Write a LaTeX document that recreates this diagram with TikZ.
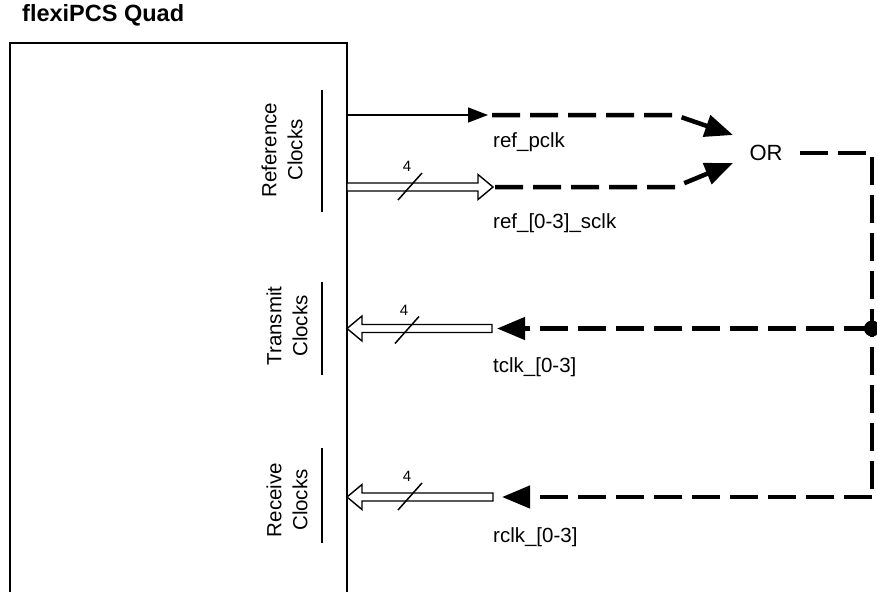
\documentclass[tikz,border=0pt]{standalone}
\usepackage{fontspec}
\setmainfont{Liberation Sans}
\usetikzlibrary{arrows.meta,calc}

\tikzset{
  cadre/.style={line width=2pt},
  signal/.style={line width=1.5pt},
  pointille/.style={line width=4.5pt, dash pattern=on 28pt off 10pt},
  grandefleche/.style={-{Triangle[length=28pt,width=22pt]}},
  bus/.style={line width=1.4pt, fill=white, line join=miter},
  etiq/.style={anchor=west, inner sep=0pt, font=\fontsize{20.5}{24}\selectfont},
  groupe/.style={rotate=90, align=center, inner sep=0pt, font=\fontsize{20.5}{26}\selectfont},
}

% fleche creuse (bus) de #1 vers #2
\newcommand{\flechebus}[2]{%
  \path ($(#2)!15pt!(#1)$) coordinate (basetete);
  \draw[bus] ($(#1)!4pt!90:(#2)$) -- ($(basetete)!4pt!90:(#2)$)
    -- ($(basetete)!12.5pt!90:(#2)$) -- (#2)
    -- ($(basetete)!12.5pt!-90:(#2)$) -- ($(basetete)!4pt!-90:(#2)$)
    -- ($(#1)!4pt!-90:(#2)$) -- cycle;}

% barre oblique du bus avec sa largeur
\newcommand{\barrebus}[1]{%
  \draw[signal] ($(#1)+(-12,13.5)$) -- ($(#1)+(12,-13.5)$);
  \node[font=\fontsize{15}{16}\selectfont] at ($(#1)+(-3,-20)$) {4};}

\begin{document}
\begin{tikzpicture}[x=1pt, y=-1pt]
    \useasboundingbox (0,0) rectangle (877,592);

    % Titre et cadre du bloc
    \node[anchor=west, inner sep=0pt, font=\bfseries\fontsize{23.5}{26}\selectfont] (titre) at (22,15) {flexiPCS Quad};
    \draw[cadre] (10,592) -- (10,43) -- (347,43) -- (347,592);

    % Groupes d'horloges
    \node[groupe] (grpref) at (282,150) {Reference\\Clocks};
    \draw[cadre] (322,90) -- (322,212);
    \node[groupe] (grptx) at (287,326) {Transmit\\Clocks};
    \draw[cadre] (322,282) -- (322,375);
    \node[groupe] (grprx) at (287,500) {Receive\\Clocks};
    \draw[cadre] (322,448) -- (322,543);

    % Points de connexion
    \coordinate (pclkdep) at (347,115);
    \coordinate (pclkfin) at (488,115);
    \coordinate (pclkcoude) at (675,115);
    \coordinate (sclkdep) at (347,187);
    \coordinate (sclkfin) at (493,187);
    \coordinate (sclkcoude) at (675,187);
    \coordinate (tclkdep) at (492,328.5);
    \coordinate (tclkfin) at (347,328.5);
    \coordinate (rclkdep) at (493,497);
    \coordinate (rclkfin) at (347,497);
    \coordinate (jonction) at (872,328.5);
    \coordinate (coinhaut) at (872,153);
    \coordinate (coinbas) at (872,497);
    \coordinate (orsortie) at (800,153);

    % Porte OR
    \node[font=\fontsize{22}{24}\selectfont] (ou) at (766,153) {OR};

    % ref_pclk
    \draw[signal, -{Triangle[length=20pt,width=15pt]}] (pclkdep) -- (pclkfin);
    \draw[pointille, grandefleche] ([xshift=4pt]pclkfin) -- (pclkcoude) -- (733,135);
    \node[etiq] (lblpclk) at (493,142) {ref\_pclk};

    % ref_[0-3]_sclk
    \flechebus{sclkdep}{sclkfin}
    \barrebus{410,186.5}
    \draw[pointille, grandefleche] ([xshift=2pt]sclkfin) -- (sclkcoude) -- (733,163);
    \node[etiq] (lblsclk) at (493,223) {ref\_[0-3]\_sclk};

    % retour vers tclk et rclk
    \draw[pointille] (orsortie) -- (coinhaut) -- (coinbas);
    \draw[pointille, grandefleche] (jonction) -- ([xshift=5pt]tclkdep);
    \draw[pointille, grandefleche] (coinbas) -- ([xshift=9pt]rclkdep);
    \fill (jonction) circle (8pt);

    % tclk_[0-3]
    \flechebus{tclkdep}{tclkfin}
    \barrebus{407,330}
    \node[etiq] (lbltclk) at (493,367) {tclk\_[0-3]};

    % rclk_[0-3]
    \flechebus{rclkdep}{rclkfin}
    \barrebus{410,496.5}
    \node[etiq] (lblrclk) at (493,537) {rclk\_[0-3]};
\end{tikzpicture}
\end{document}
